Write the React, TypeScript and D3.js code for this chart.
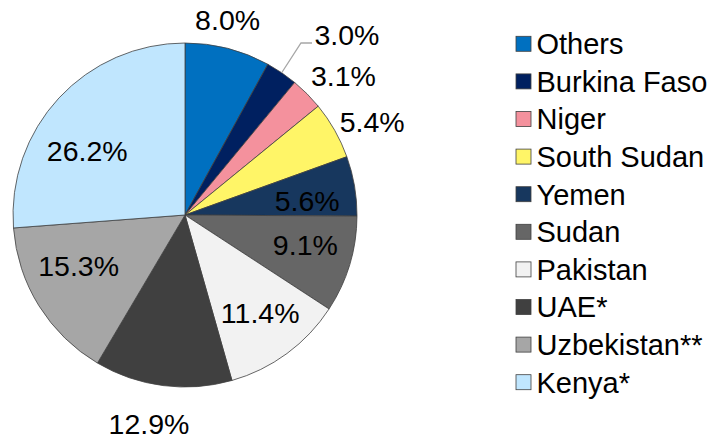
import React from 'react';
import * as d3 from 'd3';

// slices go clockwise from 12 o'clock
const countries = ['Others', 'Burkina Faso', 'Niger', 'South Sudan', 'Yemen', 'Sudan', 'Pakistan', 'UAE*', 'Uzbekistan**', 'Kenya*'];
const shares = [8.0, 3.0, 3.1, 5.4, 5.6, 9.1, 11.4, 12.9, 15.3, 26.2];
const colors = ['#0070C0', '#002060', '#F4919D', '#FFF567', '#17375E', '#666666', '#F2F2F2', '#404040', '#A6A6A6', '#C0E6FE'];

// label placement: distance from centre and angular nudge (deg) off the slice middle
const labelRadius = [200, 242, 211, 209, 123, 124, 123, 212, 118, 117];
const labelShift = [-2.1, 7.8, 3.5, 3.1, 3.2, -2.8, -1.3, 2.4, 6.2, -9.5];

const W = 714;
const H = 439;
const cx = 185;
const cy = 215;
const R = 172;

export default function App() {
  const pie = d3.pie<number>().sort(null).value(d => d);
  const arcs = pie(shares);
  const arc = d3.arc<d3.PieArcDatum<number>>().innerRadius(0).outerRadius(R);

  const polar = (a: number, r: number) => [r * Math.sin(a), -r * Math.cos(a)];

  const legendY = d3.scaleBand<string>().domain(countries).range([25, 401]);

  // leader line for the Burkina Faso label
  const bf = arcs[1];
  const bfMid = (bf.startAngle + bf.endAngle) / 2;
  const [lx0, ly0] = polar(bfMid, R);

  return (
    <svg width={W} height={H} style={{ position: 'absolute', left: 0, top: 0, fontFamily: 'Arial, "Liberation Sans", sans-serif' }}>
      <rect width={W} height={H} fill="#fff" />
      <g transform={`translate(${cx},${cy})`}>
        {arcs.map((a, i) => (
          <path key={i} d={arc(a) || ''} fill={colors[i]} stroke="#404040" strokeWidth={0.8} strokeLinejoin="round" />
        ))}
        <polyline points={`${lx0},${ly0} ${116},${43 - cy} ${127},${43 - cy}`} fill="none" stroke="#A6A6A6" strokeWidth={1.3} />
        {arcs.map((a, i) => {
          const mid = (a.startAngle + a.endAngle) / 2 + (labelShift[i] * Math.PI) / 180;
          const [x, y] = polar(mid, labelRadius[i]);
          return (
            <text key={i} x={x} y={y} dy="0.36em" textAnchor="middle" fontSize={28.5} fill="#000">
              {shares[i].toFixed(1) + '%'}
            </text>
          );
        })}
      </g>
      <g>
        {countries.map((c, i) => {
          const y = (legendY(c) || 0) + legendY.bandwidth() / 2;
          return (
            <g key={c} transform={`translate(516,${y})`}>
              <rect x={0} y={-7.5} width={15} height={15} fill={colors[i]} stroke="#404040" strokeWidth={0.8} />
              <text x={20.5} y={0} dy="0.36em" fontSize={29} fill="#000">{c}</text>
            </g>
          );
        })}
      </g>
    </svg>
  );
}
